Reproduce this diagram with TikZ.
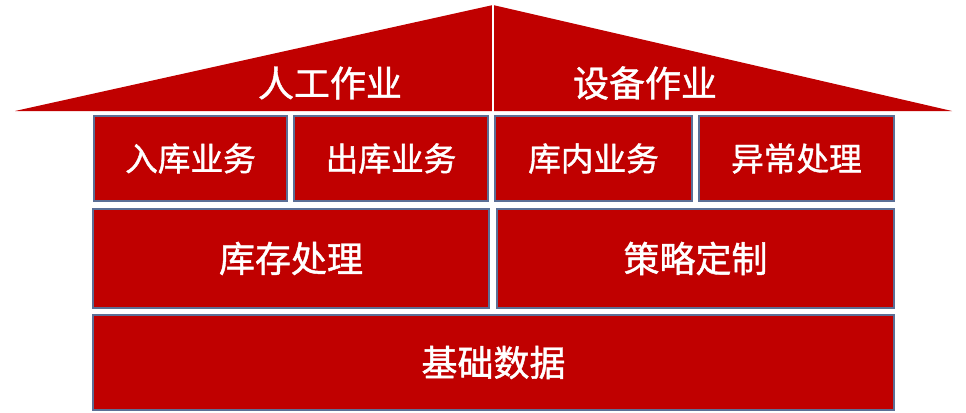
\documentclass[tikz,border=0pt]{standalone}
\usepackage{fontspec}
\newfontfamily\cjk{Noto Sans CJK SC}[FakeBold=1.2]
\usetikzlibrary{positioning}
\definecolor{roofred}{HTML}{C00000}
\definecolor{edgeblue}{HTML}{5B6F96}

\begin{document}
\begin{tikzpicture}[
    x=0.75pt, y=-0.75pt,
    box/.style={draw=edgeblue, line width=1.5pt, fill=roofred, inner sep=0pt,
                text=white, font=\cjk\fontsize{27}{30}\selectfont},
    smallbox/.style={box, minimum height=85.5*0.75pt,
                font=\cjk\fontsize{24.5}{28}\selectfont},
    rooflbl/.style={text=white, font=\cjk\fontsize{27}{30}\selectfont},
  ]
  \useasboundingbox (0,0) rectangle (966,412);

  % roof
  \fill[roofred] (15,111) -- (493,5) -- (952,111) -- cycle;
  \draw[white, line width=2pt] (493,4) -- (493,113);
  \node[rooflbl] (manual) at (330,83) {人工作业};
  \node[rooflbl] (device) at (645,83) {设备作业};

  % upper row
  \node[smallbox, minimum width=193.5*0.75pt] (inbound)  at (190.5,158.5) {入库业务};
  \node[smallbox, minimum width=194.5*0.75pt] (outbound) at (391,158.5)   {出库业务};
  \node[smallbox, minimum width=197.5*0.75pt] (inner)    at (593.5,158.5) {库内业务};
  \node[smallbox, minimum width=195.5*0.75pt] (abnormal) at (796.5,158.5) {异常处理};

  % middle row
  \node[box, minimum width=396.5*0.75pt, minimum height=99.5*0.75pt] (stock)  at (291,258.5)   {库存处理};
  \node[box, minimum width=397.5*0.75pt, minimum height=99.5*0.75pt] (policy) at (695.5,258.5) {策略定制};

  % base
  \node[box, minimum width=801.5*0.75pt, minimum height=95.5*0.75pt] (basedata) at (493.5,362.5) {基础数据};
\end{tikzpicture}
\end{document}
